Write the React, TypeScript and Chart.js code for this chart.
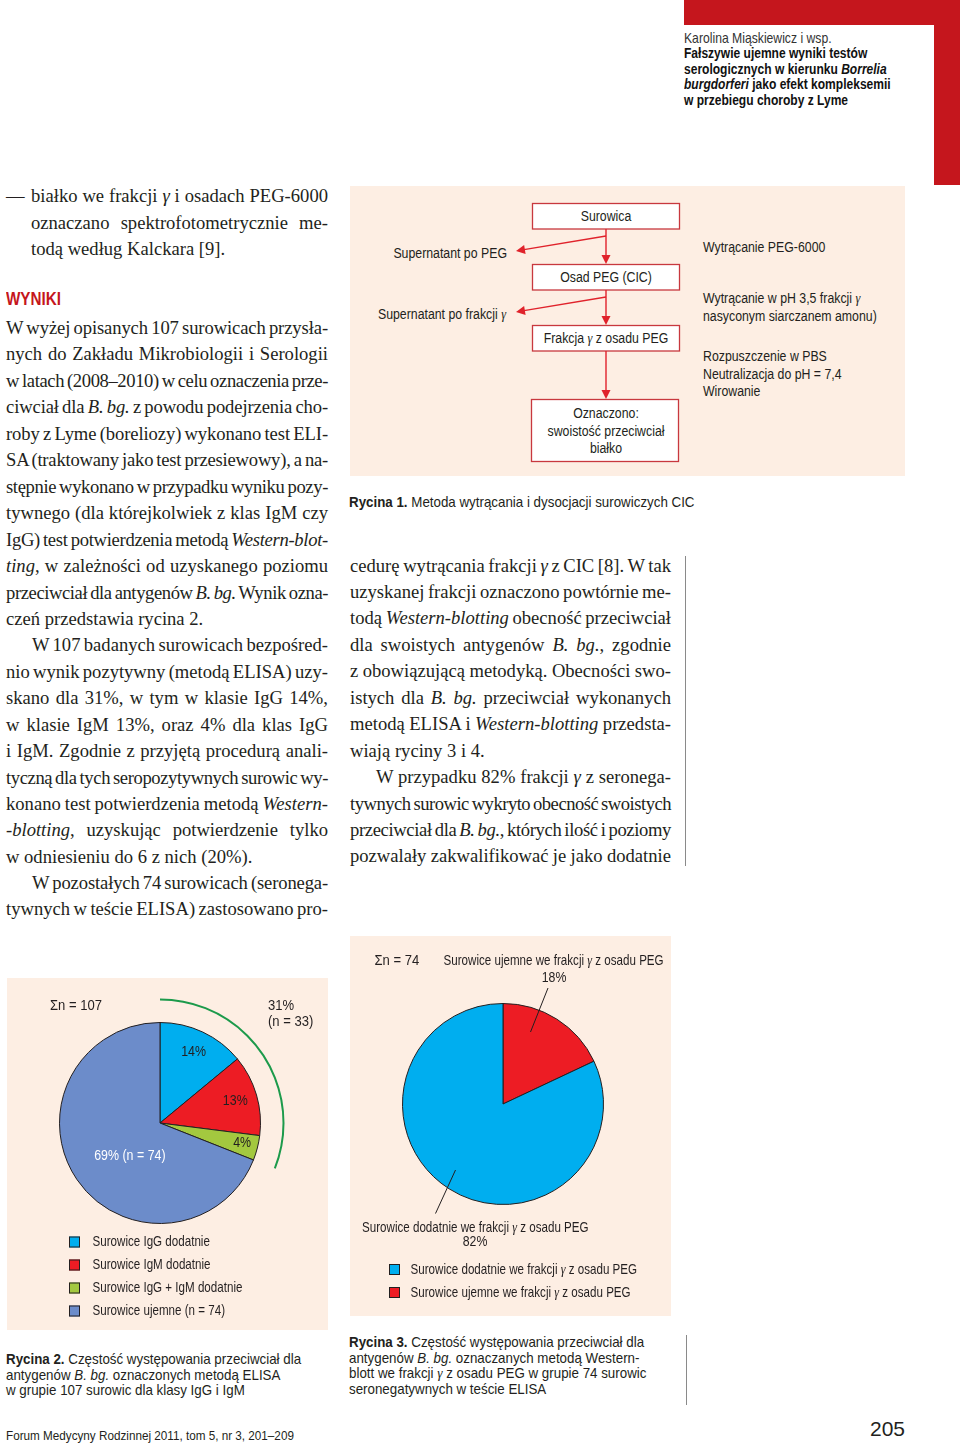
import React, { useEffect, useLayoutEffect, useRef } from "react";
import { Chart, registerables } from "chart.js";

Chart.register(...registerables);

// ---------- data ----------
const fig2Categories = [
  "Surowice IgG dodatnie",
  "Surowice IgM dodatnie",
  "Surowice IgG + IgM dodatnie",
  "Surowice ujemne (n = 74)",
];
const fig2Percent = [14, 13, 4, 69];
const fig2SliceLabels = ["14%", "13%", "4%", "69% (n = 74)"];
const fig2Colors = ["#00aeef", "#ed1c24", "#a3c83f", "#6c8cca"];
const fig2Total = "Σn = 107";
const fig2PositiveLabels = ["31%", "(n = 33)"];

const fig3Categories = [
  "Surowice ujemne we frakcji γ z osadu PEG",
  "Surowice dodatnie we frakcji γ z osadu PEG",
];
const fig3Percent = [18, 82];
const fig3Colors = ["#ed1c24", "#00aeef"];
const fig3LegendOrder = [1, 0];
const fig3Total = "Σn = 74";

// ---------- style ----------
const PEACH = "#fdeee3";
const INK = "#231f20";
const HEAD_RED = "#c5161d";
const SANS = '"Liberation Sans", Arial, sans-serif';
const SERIF = '"Liberation Serif", "Times New Roman", serif';
const K = 0.82; // horizontal condensing of the sans face

// ---------- body text ----------
type L = [string, number, number, boolean];
const leftCol: L[] = [
  ["białko we frakcji γ i osadach PEG-6000", 31, 197, true],
  ["oznaczano spektrofotometrycznie me-", 31, 224, true],
  ["todą według Kalckara [9].", 31, 250, false],
  ["W wyżej opisanych 107 surowicach przysła-", 6, 329, true],
  ["nych do Zakładu Mikrobiologii i Serologii", 6, 355, true],
  ["w latach (2008–2010) w celu oznaczenia prze-", 6, 382, true],
  ["ciwciał dla _B. bg._ z powodu podejrzenia cho-", 6, 408, true],
  ["roby z Lyme (boreliozy) wykonano test ELI-", 6, 435, true],
  ["SA (traktowany jako test przesiewowy), a na-", 6, 461, true],
  ["stępnie wykonano w przypadku wyniku pozy-", 6, 488, true],
  ["tywnego (dla którejkolwiek z klas IgM czy", 6, 514, true],
  ["IgG) test potwierdzenia metodą _Western-blot-_", 6, 541, true],
  ["_ting_, w zależności od uzyskanego poziomu", 6, 567, true],
  ["przeciwciał dla antygenów _B. bg._ Wynik ozna-", 6, 594, true],
  ["czeń przedstawia rycina 2.", 6, 620, false],
  ["W 107 badanych surowicach bezpośred-", 32, 646, true],
  ["nio wynik pozytywny (metodą ELISA) uzy-", 6, 673, true],
  ["skano dla 31%, w tym w klasie IgG 14%,", 6, 699, true],
  ["w klasie IgM 13%, oraz 4% dla klas IgG", 6, 726, true],
  ["i IgM. Zgodnie z przyjętą procedurą anali-", 6, 752, true],
  ["tyczną dla tych seropozytywnych surowic wy-", 6, 779, true],
  ["konano test potwierdzenia metodą _Western-_", 6, 805, true],
  ["_-blotting_, uzyskując potwierdzenie tylko", 6, 831, true],
  ["w odniesieniu do 6 z nich (20%).", 6, 858, false],
  ["W pozostałych 74 surowicach (seronega-", 32, 884, true],
  ["tywnych w teście ELISA) zastosowano pro-", 6, 910, true],
];
const midCol: L[] = [
  ["cedurę wytrącania frakcji γ z CIC [8]. W tak", 350, 567, true],
  ["uzyskanej frakcji oznaczono powtórnie me-", 350, 593, true],
  ["todą _Western-blotting_ obecność przeciwciał", 350, 619, true],
  ["dla swoistych antygenów _B. bg._, zgodnie", 350, 646, true],
  ["z obowiązującą metodyką. Obecności swo-", 350, 672, true],
  ["istych dla _B. bg._ przeciwciał wykonanych", 350, 699, true],
  ["metodą ELISA i _Western-blotting_ przedsta-", 350, 725, true],
  ["wiają ryciny 3 i 4.", 350, 752, false],
  ["W przypadku 82% frakcji γ z seronega-", 376, 778, true],
  ["tywnych surowic wykryto obecność swoistych", 350, 805, true],
  ["przeciwciał dla _B. bg._, których ilość i poziomy", 350, 831, true],
  ["pozwalały zakwalifikować je jako dodatnie", 350, 857, true],
];

function rich(text: string): React.ReactNode[] {
  const out: React.ReactNode[] = [];
  text.split("_").forEach((p, i) => {
    const italic = i % 2 === 1;
    p.split("γ").forEach((s, j) => {
      if (j > 0)
        out.push(
          <span key={`g${i}-${j}`} style={{ fontFamily: SERIF, fontStyle: "italic" }}>
            γ
          </span>
        );
      if (s)
        out.push(
          italic ? <i key={`t${i}-${j}`}>{s}</i> : <React.Fragment key={`t${i}-${j}`}>{s}</React.Fragment>
        );
    });
  });
  return out;
}

function JLine({ text, x, xEnd, y, justify }: { text: string; x: number; xEnd: number; y: number; justify: boolean }) {
  const ref = useRef<HTMLDivElement>(null);
  useLayoutEffect(() => {
    const el = ref.current;
    if (!el) return;
    const plain = text.replace(/_/g, "");
    const fit = () => {
      el.style.wordSpacing = "0px";
      el.style.letterSpacing = "0px";
      if (!justify) return;
      const target = xEnd - x;
      const spaces = (plain.match(/ /g) || []).length;
      const w = el.getBoundingClientRect().width;
      let ws = spaces ? (target - w) / spaces : 0;
      if (ws < -1.3) {
        ws = -1.3;
        const ls = (target - w - ws * spaces) / plain.length;
        el.style.letterSpacing = `${ls}px`;
      }
      el.style.wordSpacing = `${ws}px`;
      const w2 = el.getBoundingClientRect().width;
      if (spaces) el.style.wordSpacing = `${ws + (target - w2) / spaces}px`;
    };
    fit();
    if ((document as any).fonts) (document as any).fonts.ready.then(fit);
  }, [text, x, xEnd, justify]);
  return (
    <div
      ref={ref}
      style={{
        position: "absolute",
        left: x,
        top: y - 14,
        whiteSpace: "pre",
        fontFamily: SERIF,
        fontSize: 18.6,
        lineHeight: "26px",
        color: INK,
      }}
    >
      {rich(text)}
    </div>
  );
}

function SansText({
  x, y, text, size = 14, bold = false, color = INK, k = K,
}: { x: number; y: number; text: string; size?: number; bold?: boolean; color?: string; k?: number }) {
  return (
    <div
      style={{
        position: "absolute",
        left: x,
        top: y - size * 0.56,
        whiteSpace: "pre",
        fontFamily: SANS,
        fontSize: size,
        lineHeight: `${size}px`,
        fontWeight: bold ? 700 : 400,
        color,
        transform: `scaleX(${k})`,
        transformOrigin: "0 0",
      }}
    >
      {rich(text)}
    </div>
  );
}

// ---------- canvas helpers ----------
function drawRich(
  ctx: CanvasRenderingContext2D, text: string, x: number, y: number, size: number, color: string,
  align: "left" | "center" | "right", k = K
) {
  const segs: { t: string; f: string }[] = [];
  text.split("γ").forEach((p, i) => {
    if (i > 0) segs.push({ t: "γ", f: `italic ${size * 1.05}px ${SERIF}` });
    if (p) segs.push({ t: p, f: `${size}px ${SANS}` });
  });
  let total = 0;
  segs.forEach((s) => {
    ctx.font = s.f;
    total += ctx.measureText(s.t).width;
  });
  const start = align === "left" ? x : align === "center" ? x - (total * k) / 2 : x - total * k;
  ctx.save();
  ctx.translate(start, y);
  ctx.scale(k, 1);
  ctx.fillStyle = color;
  ctx.textBaseline = "middle";
  ctx.textAlign = "left";
  let cx = 0;
  segs.forEach((s) => {
    ctx.font = s.f;
    ctx.fillText(s.t, cx, 0);
    cx += ctx.measureText(s.t).width;
  });
  ctx.restore();
}
function legendSquare(ctx: CanvasRenderingContext2D, x: number, y: number, color: string) {
  ctx.fillStyle = color;
  ctx.fillRect(x, y - 5.5, 11, 11);
  ctx.strokeStyle = INK;
  ctx.lineWidth = 1;
  ctx.strokeRect(x + 0.5, y - 5, 10, 10);
}

const fig2LabelDist = [0.785, 0.78, 0.84, 0.445];
const fig2LabelShift = [0, 0, -0.02, -0.235];
const fig2LabelColors = [INK, INK, INK, "#ffffff"];

const fig2Plugin = {
  id: "fig2Deco",
  afterDatasetsDraw(chart: any) {
    const ctx: CanvasRenderingContext2D = chart.ctx;
    const arcs = chart.getDatasetMeta(0).data as any[];
    const cx = arcs[0].x, cy = arcs[0].y, r = arcs[0].outerRadius;
    ctx.save();
    ctx.strokeStyle = "#1c9a4b";
    ctx.lineWidth = 2;
    ctx.beginPath();
    ctx.arc(cx, cy, r + 23, arcs[0].startAngle, arcs[2].endAngle);
    ctx.stroke();
    arcs.forEach((arc, i) => {
      const mid = (arc.startAngle + arc.endAngle) / 2 + fig2LabelShift[i];
      const d = r * fig2LabelDist[i];
      drawRich(ctx, fig2SliceLabels[i], cx + Math.cos(mid) * d, cy + Math.sin(mid) * d, 15.5, fig2LabelColors[i], "center", 0.8);
    });
    drawRich(ctx, fig2Total, 43, 28, 14.5, INK, "left", 0.9);
    drawRich(ctx, fig2PositiveLabels[0], 261, 28, 14.5, INK, "left", 0.9);
    drawRich(ctx, fig2PositiveLabels[1], 261, 44, 14.5, INK, "left", 0.9);
    fig2Categories.forEach((c, i) => {
      const y = 264 + i * 23;
      legendSquare(ctx, 62, y, fig2Colors[i]);
      drawRich(ctx, c, 85.5, y, 14.5, INK, "left", 0.8);
    });
    ctx.restore();
  },
};

const fig3Plugin = {
  id: "fig3Deco",
  afterDatasetsDraw(chart: any) {
    const ctx: CanvasRenderingContext2D = chart.ctx;
    ctx.save();
    drawRich(ctx, fig3Total, 24.5, 24.5, 14.5, INK, "left", 0.9);
    drawRich(ctx, fig3Categories[0], 93.5, 24.5, 14.5, INK, "left", 0.8);
    drawRich(ctx, `${fig3Percent[0]}%`, 204, 42, 14.5, INK, "center", 0.85);
    drawRich(ctx, fig3Categories[1], 12, 291.5, 14.5, INK, "left", 0.8);
    drawRich(ctx, `${fig3Percent[1]}%`, 125, 306, 14.5, INK, "center", 0.85);
    ctx.strokeStyle = INK;
    ctx.lineWidth = 1;
    ctx.beginPath();
    ctx.moveTo(198, 52);
    ctx.lineTo(180.5, 96);
    ctx.moveTo(105.5, 234);
    ctx.lineTo(85.5, 277.5);
    ctx.stroke();
    fig3LegendOrder.forEach((idx, i) => {
      const y = 333.5 + i * 23;
      legendSquare(ctx, 39, y, fig3Colors[idx]);
      drawRich(ctx, fig3Categories[idx], 60.5, y, 14.5, INK, "left", 0.8);
    });
    ctx.restore();
  },
};

function PieCanvas({
  left, top, width, height, values, colors, labels, padding, plugin,
}: {
  left: number; top: number; width: number; height: number; values: number[]; colors: string[]; labels: string[];
  padding: { left: number; top: number; right: number; bottom: number }; plugin: any;
}) {
  const ref = useRef<HTMLCanvasElement>(null);
  useEffect(() => {
    const chart = new Chart(ref.current as HTMLCanvasElement, {
      type: "pie",
      data: {
        labels,
        datasets: [{ data: values, backgroundColor: colors, borderColor: INK, borderWidth: 1 }],
      },
      options: {
        responsive: false,
        animation: false,
        devicePixelRatio: 1,
        layout: { padding },
        plugins: { legend: { display: false }, tooltip: { enabled: false } },
      },
      plugins: [plugin],
    } as any);
    return () => chart.destroy();
  }, []);
  return (
    <div style={{ position: "absolute", left, top, width, height, background: PEACH }}>
      <canvas ref={ref} width={width} height={height} style={{ display: "block", width, height }} />
    </div>
  );
}

// ---------- flowchart ----------
function arrowHead(tx: number, ty: number, fx: number, fy: number, len = 9, half = 4.5) {
  const dx = tx - fx, dy = ty - fy;
  const l = Math.hypot(dx, dy);
  const ux = dx / l, uy = dy / l;
  const bx = tx - ux * len, by = ty - uy * len;
  const px = -uy * half, py = ux * half;
  return `${tx},${ty} ${bx + px},${by + py} ${bx - px},${by - py}`;
}

function Flowchart() {
  const boxStroke = "#c8383e";
  const arrow = "#e0222b";
  const vx = 606;
  const boxes = [
    [532.5, 203.5, 147, 25.5],
    [532.5, 264.5, 147, 25.5],
    [532.5, 325.5, 147, 25.5],
    [531.5, 399.5, 147, 62],
  ];
  const fk = 0.81;
  const T = (x: number, y: number, t: string, anchor: "start" | "middle" | "end") => (
    <text
      x={x}
      y={y}
      textAnchor={anchor}
      dominantBaseline="central"
      fontFamily={SANS}
      fontSize={15.2}
      fill={INK}
      transform={`translate(${x},0) scale(${fk},1) translate(${-x},0)`}
    >
      {t.split("γ").map((s, i) => (
        <React.Fragment key={i}>
          {i > 0 && (
            <tspan fontFamily={SERIF} fontStyle="italic">
              γ
            </tspan>
          )}
          {s}
        </React.Fragment>
      ))}
    </text>
  );
  return (
    <svg width={960} height={500} style={{ position: "absolute", left: 0, top: 0 }}>
      <rect x={350} y={186} width={555} height={290} fill={PEACH} />
      {boxes.map((b, i) => (
        <rect key={i} x={b[0]} y={b[1]} width={b[2]} height={b[3]} fill="#ffffff" stroke={boxStroke} strokeWidth={1.3} />
      ))}
      <g stroke={arrow} strokeWidth={1.4} fill="none">
        <line x1={vx} y1={229} x2={vx} y2={257} />
        <line x1={vx} y1={290} x2={vx} y2={318} />
        <line x1={vx} y1={351} x2={vx} y2={392} />
        <line x1={vx} y1={236} x2={524} y2={249.6} />
        <line x1={vx} y1={297} x2={524} y2={310.6} />
      </g>
      <g fill={arrow}>
        <polygon points={arrowHead(vx, 264, vx, 229)} />
        <polygon points={arrowHead(vx, 325, vx, 290)} />
        <polygon points={arrowHead(vx, 399, vx, 351)} />
        <polygon points={arrowHead(516, 251, vx, 236)} />
        <polygon points={arrowHead(516, 312, vx, 297)} />
      </g>
      {T(606, 216, "Surowica", "middle")}
      {T(606, 277, "Osad PEG (CIC)", "middle")}
      {T(606, 338, "Frakcja γ z osadu PEG", "middle")}
      {T(606, 413, "Oznaczono:", "middle")}
      {T(606, 430.5, "swoistość przeciwciał", "middle")}
      {T(606, 447.5, "białko", "middle")}
      {T(507, 252.5, "Supernatant po PEG", "end")}
      {T(506, 313.5, "Supernatant po frakcji γ", "end")}
      {T(703, 246.5, "Wytrącanie PEG-6000", "start")}
      {T(703, 298, "Wytrącanie w pH 3,5 frakcji γ", "start")}
      {T(703, 316, "nasyconym siarczanem amonu)", "start")}
      {T(703, 355.5, "Rozpuszczenie w PBS", "start")}
      {T(703, 373.5, "Neutralizacja do pH = 7,4", "start")}
      {T(703, 390.5, "Wirowanie", "start")}
    </svg>
  );
}

function Caption({ x, y, lines, step = 15.5 }: { x: number; y: number; lines: string[]; step?: number }) {
  return (
    <>
      {lines.map((l, i) => {
        const m = l.match(/^(Rycina \d\.)(.*)$/);
        return (
          <div
            key={i}
            style={{
              position: "absolute",
              left: x,
              top: y + i * step - 8,
              whiteSpace: "pre",
              fontFamily: SANS,
              fontSize: 14.5,
              lineHeight: "15px",
              color: INK,
              transform: "scaleX(0.92)",
              transformOrigin: "0 0",
            }}
          >
            {m ? (
              <>
                <b>{m[1]}</b>
                {rich(m[2])}
              </>
            ) : (
              rich(l)
            )}
          </div>
        );
      })}
    </>
  );
}

export default function App() {
  return (
    <div
      style={{
        position: "absolute",
        left: 0,
        top: 0,
        width: 960,
        height: 1443,
        background: "#ffffff",
        overflow: "hidden",
      }}
    >
      {/* header */}
      <div style={{ position: "absolute", left: 684, top: 0, width: 276, height: 25, background: HEAD_RED }} />
      <div style={{ position: "absolute", left: 934, top: 0, width: 26, height: 185, background: HEAD_RED }} />
      <SansText x={684} y={39} text="Karolina Miąskiewicz i wsp." size={14.5} color="#333" k={0.84} />
      <SansText x={684} y={54.5} text="Fałszywie ujemne wyniki testów" size={14.5} bold color="#111" k={0.83} />
      <SansText x={684} y={70} text="serologicznych w kierunku _Borrelia_" size={14.5} bold color="#111" k={0.83} />
      <SansText x={684} y={85.5} text="_burgdorferi_ jako efekt kompleksemii" size={14.5} bold color="#111" k={0.83} />
      <SansText x={684} y={101} text="w przebiegu choroby z Lyme" size={14.5} bold color="#111" k={0.83} />

      {/* left column */}
      <div
        style={{
          position: "absolute",
          left: 6,
          top: 197 - 14,
          fontFamily: SERIF,
          fontSize: 18.6,
          lineHeight: "26px",
          color: INK,
        }}
      >
        —
      </div>
      {leftCol.map(([t, x, y, j], i) => (
        <JLine key={`l${i}`} text={t} x={x} xEnd={328} y={y} justify={j} />
      ))}
      <SansText x={6} y={301} text="WYNIKI" size={17.5} bold color={HEAD_RED} k={0.87} />

      {/* flowchart */}
      <Flowchart />
      <Caption x={349} y={503} lines={["Rycina 1. Metoda wytrącania i dysocjacji surowiczych CIC"]} />

      {/* middle column */}
      {midCol.map(([t, x, y, j], i) => (
        <JLine key={`m${i}`} text={t} x={x} xEnd={671} y={y} justify={j} />
      ))}
      <div style={{ position: "absolute", left: 685, top: 556, width: 1, height: 310, background: "#8a8a8a" }} />

      {/* figure 2 */}
      <PieCanvas
        left={7}
        top={978}
        width={321}
        height={352}
        values={fig2Percent}
        colors={fig2Colors}
        labels={fig2Categories}
        padding={{ left: 52, top: 44, right: 67, bottom: 106 }}
        plugin={fig2Plugin}
      />
      {/* figure 3 */}
      <PieCanvas
        left={350}
        top={936}
        width={321}
        height={380}
        values={fig3Percent}
        colors={fig3Colors}
        labels={fig3Categories}
        padding={{ left: 52, top: 67, right: 67, bottom: 111 }}
        plugin={fig3Plugin}
      />

      <Caption
        x={6}
        y={1360}
        lines={[
          "Rycina 2. Częstość występowania przeciwciał dla",
          "antygenów _B. bg._ oznaczonych metodą ELISA",
          "w grupie 107 surowic dla klasy IgG i IgM",
        ]}
      />
      <Caption
        x={349}
        y={1343}
        lines={[
          "Rycina 3. Częstość występowania przeciwciał dla",
          "antygenów _B. bg._ oznaczanych metodą Western-",
          "blott we frakcji γ z osadu PEG w grupie 74 surowic",
          "seronegatywnych w teście ELISA",
        ]}
      />
      <div style={{ position: "absolute", left: 686, top: 1335, width: 1, height: 70, background: "#8a8a8a" }} />

      {/* footer */}
      <SansText x={6} y={1436} text="Forum Medycyny Rodzinnej 2011, tom 5, nr 3, 201–209" size={13} k={0.9} />
      <SansText x={870} y={1430} text="205" size={21} k={1} />
    </div>
  );
}
